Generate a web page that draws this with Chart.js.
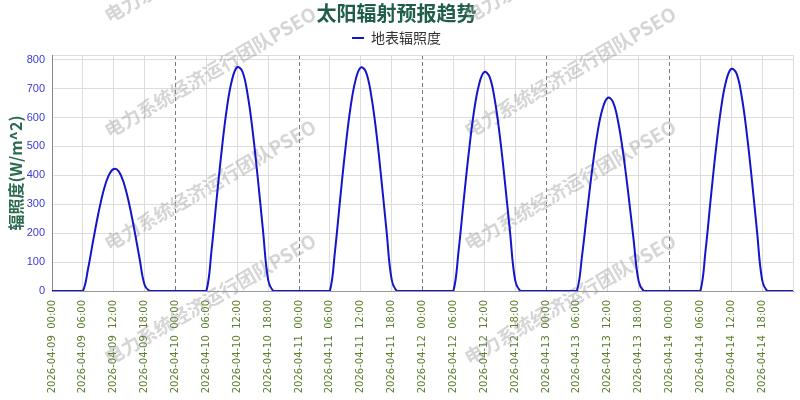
<!DOCTYPE html>
<html>
<head>
<meta charset="utf-8">
<script src="https://cdn.jsdelivr.net/npm/chart.js@4.4.0/dist/chart.umd.min.js"></script>
<style>
  html, body { margin: 0; padding: 0; background: #fff; overflow: hidden; }
  #wrap { width: 800px; height: 400px; }
</style>
</head>
<body>
<div id="wrap"><canvas id="chart" width="800" height="400"></canvas></div>
<script>
// dates on the x axis (last one only closes the range)
var days = ['2026-04-09', '2026-04-10', '2026-04-11', '2026-04-12', '2026-04-13', '2026-04-14', '2026-04-15'];

// hourly irradiance per day, 00:00 .. 23:00 (W/m^2)
var irr0409 = [0,0,0,0,0,0,0,76,174,267,346,399,422,413,371,301,212,114,21,0,0,0,0,0];
var irr0410 = [0,0,0,0,0,0,0,140,319,490,634,731,774,759,681,552,389,210,39,0,0,0,0,0];
var irr0411 = [0,0,0,0,0,0,0,139,318,489,633,730,773,758,680,552,388,210,40,0,0,0,0,0];
var irr0412 = [0,0,0,0,0,0,0,137,312,479,620,715,757,742,666,540,380,205,38,0,0,0,0,0];
var irr0413 = [0,0,0,0,0,0,0,121,275,423,547,631,668,654,587,476,336,181,34,0,0,0,0,0];
var irr0414 = [0,0,0,0,0,0,0,139,317,486,629,726,768,753,676,548,386,208,39,0,0,0,0,0];
var irrEnd = [0]; // 04-15 00:00

var yTickValues = [0, 100, 200, 300, 400, 500, 600, 700, 800];
var yTop = 816;

var seriesName = '地表辐照度';
var titleText = '太阳辐射预报趋势';
var yTitle = '辐照度(W/m^2)';
var watermarkText = '电力系统经济运行团队PSEO';

function pad(n) { return n < 10 ? '0' + n : '' + n; }

var labels = [];
for (var d = 0; d < days.length - 1; d++) {
  for (var h = 0; h < 24; h++) {
    labels.push(days[d] + '  ' + pad(h) + ':00');
  }
}
labels.push(days[days.length - 1] + '  00:00');

var values = [].concat(irr0409, irr0410, irr0411, irr0412, irr0413, irr0414, irrEnd);

var CJK = '"Noto Sans CJK SC", "Noto Sans", sans-serif';

// midnight lines inside the plot are dashed
function isDayLine(c) {
  if (!c.tick) return false;
  var i = c.tick.value;
  return i % 24 === 0 && i > 0 && i < labels.length - 1;
}

// faint diagonal watermark over the whole picture
var watermark = {
  id: 'watermark',
  beforeDatasetsDraw: function(chart) {
    var ctx = chart.ctx;
    ctx.save();
    ctx.font = 'bold 19px ' + CJK;
    ctx.fillStyle = 'rgba(150,150,150,0.4)';
    ctx.textAlign = 'left';
    ctx.textBaseline = 'alphabetic';
    [111, 471].forEach(function(x) {
      [26, 141, 254, 368].forEach(function(y) {
        ctx.save();
        ctx.translate(x, y);
        ctx.rotate(-Math.PI / 6);
        ctx.fillText(watermarkText, 0, -3);
        ctx.restore();
      });
    });
    ctx.restore();
  }
};

var ctx = document.getElementById('chart').getContext('2d');
new Chart(ctx, {
  type: 'line',
  data: {
    labels: labels,
    datasets: [{
      label: seriesName,
      data: values,
      borderColor: '#1414cc',
      backgroundColor: '#1414cc',
      borderWidth: 2,
      pointRadius: 0,
      tension: 0.4,
      fill: false
    }]
  },
  options: {
    responsive: false,
    animation: false,
    layout: { padding: { right: 7 } },
    plugins: {
      title: {
        display: true,
        text: titleText,
        color: '#1f5e47',
        font: { size: 20, weight: 'bold', family: CJK },
        padding: { top: 1, bottom: 2 }
      },
      legend: {
        labels: {
          usePointStyle: true,
          pointStyle: 'line',
          pointStyleWidth: 12,
          boxHeight: 12,
          color: '#333',
          font: { size: 14, family: CJK },
          padding: 4
        }
      },
      tooltip: { enabled: false }
    },
    scales: {
      x: {
        grid: {
          color: function(c) { return isDayLine(c) ? '#7a7a7a' : '#dcdcdc'; },
          drawTicks: false
        },
        border: {
          color: '#999',
          dash: function(c) { return isDayLine(c) ? [4, 3] : []; }
        },
        ticks: {
          autoSkip: false,
          maxRotation: 90,
          minRotation: 90,
          padding: 9,
          color: '#5b7d2b',
          font: { size: 10, family: '"DejaVu Sans", sans-serif' },
          callback: function(value, index) {
            if (index === labels.length - 1) return '';
            return index % 6 === 0 ? this.getLabelForValue(value) : null;
          }
        },
        afterFit: function(scale) {
          scale.height = 109;
          scale.paddingLeft = 0;
          scale.paddingRight = 0;
        }
      },
      y: {
        min: 0,
        max: yTop,
        grid: { color: '#dcdcdc', drawTicks: false },
        border: { color: '#888' },
        ticks: {
          padding: 7,
          color: '#3a3ad4',
          font: { size: 11, family: '"Liberation Sans", Arial, sans-serif' },
          callback: function(value) { return value === yTop ? '' : value; }
        },
        afterBuildTicks: function(scale) {
          scale.ticks = yTickValues.concat([yTop]).map(function(v) { return { value: v }; });
        },
        title: {
          display: true,
          text: yTitle,
          color: '#2a6a4e',
          font: { size: 16, weight: 'bold', family: CJK },
          padding: { top: 6, bottom: 0 }
        },
        afterFit: function(scale) { scale.width = 52; }
      }
    }
  },
  plugins: [watermark]
});
</script>
</body>
</html>
